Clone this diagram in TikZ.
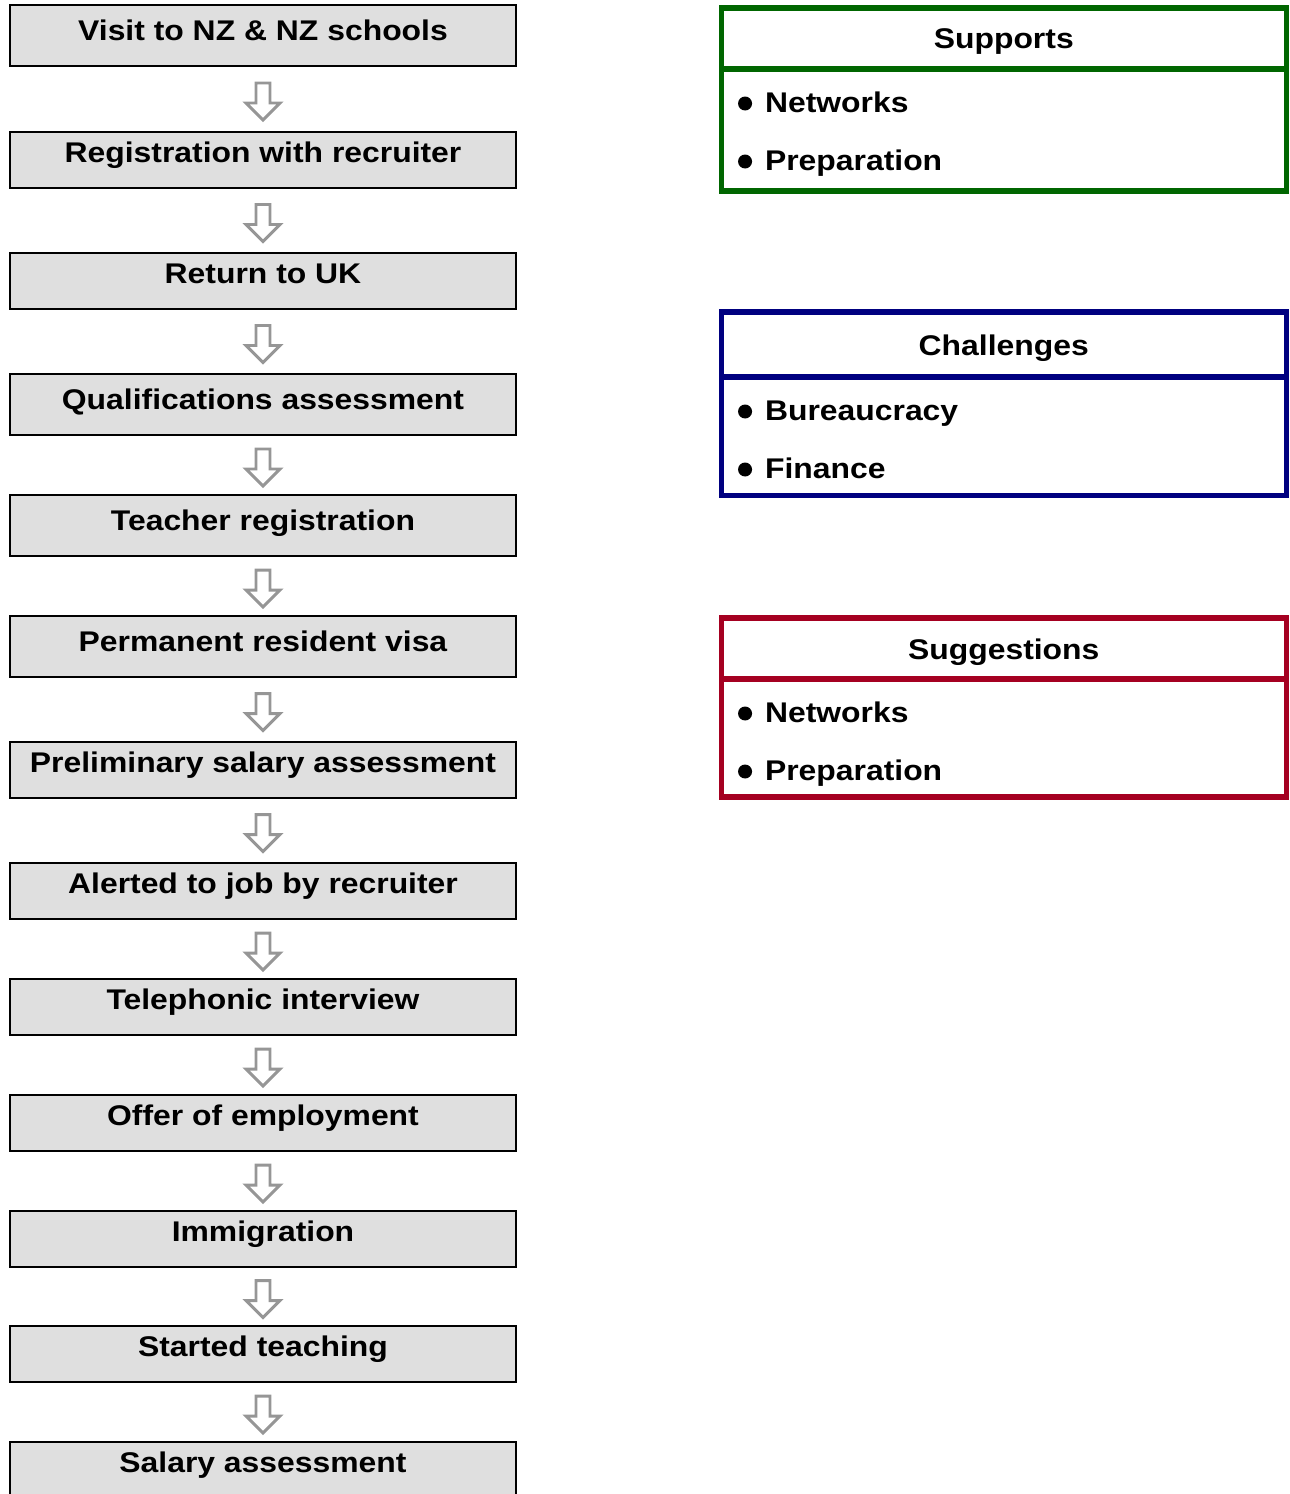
\documentclass[tikz,border=0pt]{standalone}
\usepackage{fontspec}
\setmainfont{Liberation Sans}[FakeStretch=1.12]
\usetikzlibrary{calc}
\definecolor{boxgray}{RGB}{223,223,223}
\definecolor{arrowgray}{RGB}{150,150,150}
\definecolor{supgreen}{RGB}{0,102,0}
\definecolor{chalblue}{RGB}{0,0,128}
\definecolor{sugred}{RGB}{165,0,33}
\begin{document}
\begin{tikzpicture}[x=0.02cm,y=-0.02cm,
  stepbox/.style={draw=black,line width=0.75pt,fill=boxgray,minimum width=10.12cm,
    inner sep=0pt,outer sep=0pt},
  boldtext/.style={anchor=base,inner sep=0pt,outer sep=0pt,
    font=\fontsize{16.2}{19}\selectfont\bfseries},
  flowarrow/.style={draw=arrowgray,fill=white,line width=1.7pt,line join=miter},
  panel/.style={draw=#1,line width=2.9pt,line join=miter,minimum width=11.31cm,
    inner sep=0pt,outer sep=0pt},
  dot/.style={circle,fill=black,inner sep=0pt,minimum size=0.28cm},
]
\clip (0,0) rectangle (1289,1494);

% process steps: name / centre y / height / baseline below top / text
\foreach \n/\y/\h/\b/\t in {
  1/35.5/61/35/Visit to NZ \& NZ schools,
  2/160/56/30/Registration with recruiter,
  3/281/56/30/Return to UK,
  4/404.5/61/35/Qualifications assessment,
  5/525.5/61/35/Teacher registration,
  6/646.5/61/35/Permanent resident visa,
  7/770/56/30/Preliminary salary assessment,
  8/891/56/30/Alerted to job by recruiter,
  9/1007/56/30/Telephonic interview,
  10/1123/56/30/Offer of employment,
  11/1239/56/30/Immigration,
  12/1354/56/30/Started teaching,
  13/1472/60/30/Salary assessment}{
  \node[stepbox,minimum height=\h*0.02cm] (s\n) at (263,\y) {};
  \node[boldtext] (l\n) at ($(s\n.north)+(0,\b)$) {\t};
}

% hollow block arrows between consecutive steps
\foreach \a/\b in {1/2,2/3,3/4,4/5,5/6,6/7,7/8,8/9,9/10,10/11,11/12,12/13}{
  \coordinate (m\a) at ($(s\a.south)!0.5!(s\b.north)$);
  \draw[flowarrow] ($(m\a)+(-7,-16)$) -- ++(14,0) -- ++(0,20) -- ++(10,0)
    -- ($(m\a)+(0,21)$) -- ($(m\a)+(-17,4)$) -- ++(10,0) -- cycle;
}

% side panels: name / colour / header centre / header height / body centre / body height / title / item 1 / item 2
\foreach \p/\c/\hy/\hh/\by/\bh/\ti/\ia/\ib in {
  sup/supgreen/38.5/61/130/122/Supports/Networks/Preparation,
  cha/chalblue/344.5/65/436.25/118.5/Challenges/Bureaucracy/Finance,
  sug/sugred/648.5/61/738/118/Suggestions/Networks/Preparation}{
  \node[panel=\c,minimum height=\hh*0.02cm] (\p h) at (1003.75,\hy) {};
  \node[panel=\c,minimum height=\bh*0.02cm] (\p b) at (1003.75,\by) {};
  \node[boldtext] (\p t) at ($(\p h.center)+(0,10.5)$) {\ti};
  \node[dot] (\p d1) at ($(\p b.north west)+(24,34.5)$) {};
  \node[boldtext,anchor=base west] (\p i1) at ($(\p b.north west)+(44,43)$) {\ia};
  \node[dot] (\p d2) at ($(\p b.north west)+(24,92.5)$) {};
  \node[boldtext,anchor=base west] (\p i2) at ($(\p b.north west)+(44,101)$) {\ib};
}
\end{tikzpicture}
\end{document}
